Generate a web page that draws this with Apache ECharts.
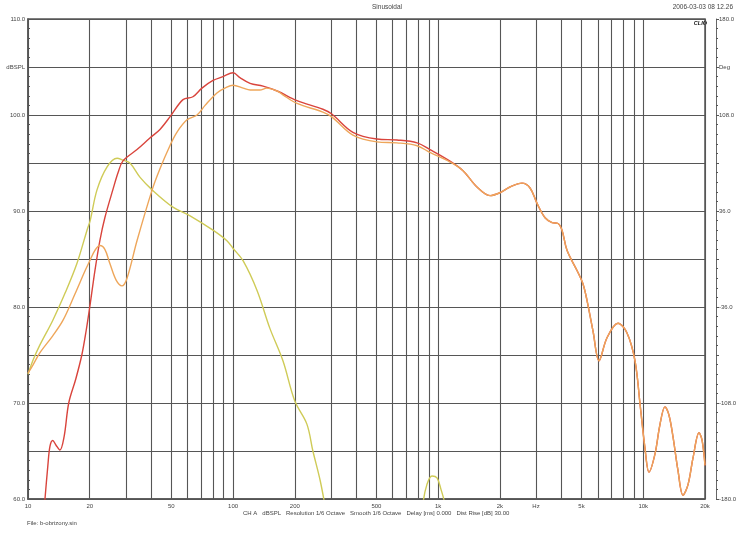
<!DOCTYPE html>
<html><head><meta charset="utf-8">
<script src="https://cdn.jsdelivr.net/npm/echarts@6/dist/echarts.min.js"></script>
<style>html,body{margin:0;padding:0;background:#fff}#c{width:744px;height:536px}</style>
</head><body><div id="c"></div>
<script>
// ---- data ----
const redFreq = [11.9,12.1,12.5,12.8,13.2,13.7,14.3,15.0,15.8,17.1,18.3,19.2,20.1,21.2,22.4,23.7,26,27.5,29,34,39.3,44,49.2,57,63.7,70.5,79.8,89.3,100,108,121,140,164,205,274,303,384,503,630,789,912,1142,1322,1546,1790,2000,2239,2563,2805,3034,3320,3592,3840,4016,4248,4753,5083,5316,5688,6085,6656,7532,8333,9115,9643,10194,10665,11410,12050,12760,13340,13960,14760,15620,16530,17490,18700,19360,20000];
const redLevel = [58,60,63.5,65.5,66.1,65.6,65.1,66.5,70,72.5,75,77.5,80.3,83.8,86.9,89.3,92.3,94,95.2,96.4,97.6,98.5,99.8,101.6,101.9,102.8,103.6,104.0,104.4,103.9,103.3,103.0,102.5,101.5,100.6,100.1,98.2,97.5,97.4,97.1,96.4,95.2,94.2,92.5,91.6,91.9,92.5,92.9,92.4,90.8,89.3,88.8,88.7,88.0,85.9,83.8,82.4,80.7,77.5,74.4,76.8,78.3,77.3,74.4,69.9,65.3,62.8,64.7,67.7,69.6,68.75,66.5,63.0,60.4,61.5,64.3,66.9,66.1,63.5];

const orangeFreq = [10,10.6,11.4,13.2,14.8,16.9,19,20.1,21.2,22.4,23.7,25.1,26.9,28.7,30.4,34,40.3,44,49.2,53.2,59.6,66.7,73,83.4,91.2,100,112,121,135,146,164,175,205,274,303,384,503,630,789,912,1142,1322,1546,1790,2000,2239,2563,2805,3034,3320,3592,3840,4016,4248,4753,5083,5316,5688,6085,6656,7532,8333,9115,9643,10194,10665,11410,12050,12760,13340,13960,14760,15620,16530,17490,18700,19360,20000];
const orangeLevel = [73.1,74,75.2,77,78.6,81.3,83.8,84.9,85.9,86.4,86,84.5,82.8,82.2,83,86.9,92.2,94.4,96.8,98.2,99.5,100,101,102.3,102.8,103.1,102.8,102.6,102.6,102.8,102.5,102.1,101.2,100.3,99.8,97.9,97.2,97.1,96.8,96.1,95.1,94.2,92.5,91.6,91.9,92.5,92.9,92.4,90.8,89.3,88.8,88.7,88.0,85.9,83.8,82.4,80.7,77.5,74.4,76.8,78.3,77.3,74.4,69.9,65.3,62.8,64.7,67.7,69.6,68.75,66.5,63.0,60.4,61.5,64.3,66.9,66.1,63.5];

const yellowFreq = [10,10.6,11.4,13.2,15.2,17.3,19.4,20.1,21.7,24.3,27.2,29,31.4,35.2,40.3,50.9,61.7,79.8,93.3,100,112,131,151,175,200,229,245,266,285,500,830,843,881,933,987,1032,1078,1095];
const yellowLevel = [73.0,74.5,76,78.6,81.5,84.5,88,89,92.2,94.6,95.5,95.3,95.0,93.5,92.2,90.4,89.5,88,86.9,86.1,84.8,81.7,77.8,74.4,70.2,67.8,65,61.9,58.5,'-',57,59.5,61.5,62.4,62.2,61.0,59.5,58];

const gridFreq = [10,20,30,40,50,60,70,80,90,100,200,300,400,500,600,700,800,900,1000,2000,3000,4000,5000,6000,7000,8000,9000,10000,20000];
const freqTickValues = [10,20,50,100,200,500,1000,2000,3000,5000,10000,20000];
const freqTickLabels = ['10','20','50','100','200','500','1k','2k','Hz','5k','10k','20k'];
const dbTickValues = [60,70,80,90,100,105,110];
const dbTickLabels = ['60.0','70.0','80.0','90.0','100.0','dBSPL','110.0'];
const degTickValues = [-180,-108,-36,36,108,144,180];
const degTickLabels = ['-180.0','-108.0','-36.0','36.0','108.0','Deg','180.0'];

// ---- chart ----
function pairs(f, l) { return f.map((v, i) => [v, l[i]]); }
function lookup(vals, labels, v) {
  const i = vals.findIndex(t => Math.abs(t - v) <= Math.abs(t) * 1e-3 + 1e-6);
  return i >= 0 ? labels[i] : '';
}
const FONT = 'Liberation Sans, Arial, sans-serif';
const GRID = '#565656';
const chart = echarts.init(document.getElementById('c'), null, {renderer: 'canvas'});
const option = {
  animation: false,
  backgroundColor: '#fff',
  grid: {left: 28, right: 39, top: 19, bottom: 37, show: true, borderColor: '#555', borderWidth: 1.5},
  xAxis: {
    type: 'log', logBase: 10, min: 10, max: 20000,
    axisLine: {show: true, onZero: false, lineStyle: {color: '#555', width: 1.5}},
    axisTick: {show: false, customValues: gridFreq},
    minorTick: {show: false},
    splitLine: {show: true, lineStyle: {color: GRID, width: 1.1}},
    axisLabel: {customValues: freqTickValues, formatter: v => lookup(freqTickValues, freqTickLabels, v),
      fontSize: 6, color: '#444', fontFamily: FONT, margin: 4}
  },
  yAxis: [{
    type: 'value', min: 60, max: 110, interval: 5, position: 'left',
    axisLine: {show: true, lineStyle: {color: '#555', width: 1.5}},
    axisTick: {show: true, inside: true, length: 3, lineStyle: {color: '#555'}},
    minorTick: {show: true, splitNumber: 5, length: 2, lineStyle: {color: '#555'}},
    splitLine: {show: true, lineStyle: {color: GRID, width: 1.1}},
    axisLabel: {customValues: dbTickValues, formatter: v => lookup(dbTickValues, dbTickLabels, v),
      fontSize: 6, color: '#444', fontFamily: FONT, margin: 3}
  }, {
    type: 'value', min: -180, max: 180, interval: 36, position: 'right', offset: 11,
    axisLine: {show: true, lineStyle: {color: '#666', width: 1}},
    axisTick: {show: true, inside: false, length: 3, lineStyle: {color: '#555'}},
    minorTick: {show: true, splitNumber: 5, length: 2, lineStyle: {color: '#555'}},
    splitLine: {show: false},
    axisLabel: {customValues: degTickValues, formatter: v => lookup(degTickValues, degTickLabels, v),
      fontSize: 6, color: '#444', fontFamily: FONT, margin: 3}
  }],
  series: [
    {type: 'line', name: 'sub', data: pairs(yellowFreq, yellowLevel), showSymbol: false, smooth: 0.35,
      lineStyle: {color: '#cfcb57', width: 1.4}, itemStyle: {color: '#cfcb57'}},
    {type: 'line', name: 'sum', data: pairs(redFreq, redLevel), showSymbol: false, smooth: 0.35,
      lineStyle: {color: '#d9443c', width: 1.4}, itemStyle: {color: '#d9443c'}},
    {type: 'line', name: 'main', data: pairs(orangeFreq, orangeLevel), showSymbol: false, smooth: 0.35,
      lineStyle: {color: '#eea65a', width: 1.4}, itemStyle: {color: '#eea65a'}}
  ],
  graphic: [
    {type: 'text', left: 372, top: 4, style: {text: 'Sinusoidal', fontSize: 6.5, fill: '#444', fontFamily: FONT, align: 'center'}},
    {type: 'text', right: 11, top: 4, style: {text: '2006-03-03 08 12.26', fontSize: 6.5, fill: '#444', fontFamily: FONT}},
    {type: 'text', right: 37, top: 20, style: {text: 'CLIO', fontSize: 5.5, fontWeight: 'bold', fontStyle: 'italic', fill: '#111', fontFamily: FONT}},
    {type: 'text', left: 243, top: 510, style: {text: 'CH A   dBSPL   Resolution 1/6 Octave   Smooth 1/6 Octave   Delay [ms] 0.000   Dist Rise [dB] 30.00', fontSize: 6, fill: '#444', fontFamily: FONT}},
    {type: 'text', left: 27, top: 520, style: {text: 'File: b-obrizony.sin', fontSize: 6, fill: '#444', fontFamily: FONT}}
  ]
};
chart.setOption(option);
</script>
</body></html>
